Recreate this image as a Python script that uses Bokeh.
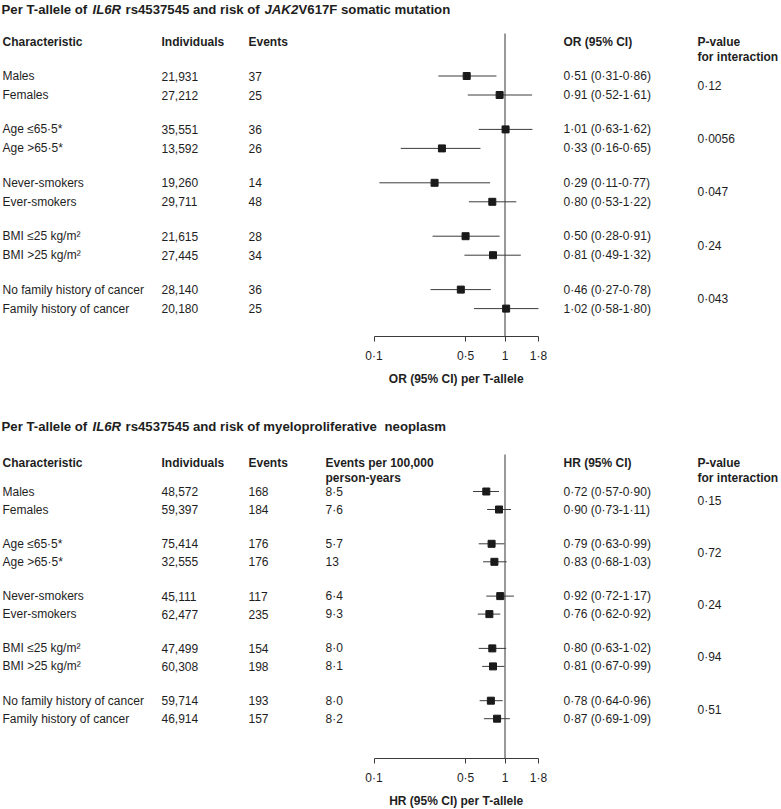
import math
from bokeh.plotting import figure
from bokeh.models import Range1d, LinearScale, FixedTicker, CustomJSTickFormatter, LogAxis
from bokeh.layouts import column
from bokeh.embed import file_html
from bokeh.resources import INLINE
from bokeh.core.properties import value

# ---------------- data ----------------
characteristics = ["Males", "Females", "Age \u226465\u00b75*", "Age >65\u00b75*",
                   "Never-smokers", "Ever-smokers", "BMI \u226425 kg/m\u00b2", "BMI >25 kg/m\u00b2",
                   "No family history of cancer", "Family history of cancer"]

jak_individuals = ["21,931", "27,212", "35,551", "13,592", "19,260", "29,711", "21,615", "27,445", "28,140", "20,180"]
jak_events = ["37", "25", "36", "26", "14", "48", "28", "34", "36", "25"]
jak_or = [0.51, 0.91, 1.01, 0.33, 0.29, 0.80, 0.50, 0.81, 0.46, 1.02]
jak_lo = [0.31, 0.52, 0.63, 0.16, 0.11, 0.53, 0.28, 0.49, 0.27, 0.58]
jak_hi = [0.86, 1.61, 1.62, 0.65, 0.77, 1.22, 0.91, 1.32, 0.78, 1.80]
jak_p = ["0\u00b712", "0\u00b70056", "0\u00b7047", "0\u00b724", "0\u00b7043"]

mpn_individuals = ["48,572", "59,397", "75,414", "32,555", "45,111", "62,477", "47,499", "60,308", "59,714", "46,914"]
mpn_events = ["168", "184", "176", "176", "117", "235", "154", "198", "193", "157"]
mpn_rate = ["8\u00b75", "7\u00b76", "5\u00b77", "13", "6\u00b74", "9\u00b73", "8\u00b70", "8\u00b71", "8\u00b70", "8\u00b72"]
mpn_hr = [0.72, 0.90, 0.79, 0.83, 0.92, 0.76, 0.80, 0.81, 0.78, 0.87]
mpn_lo = [0.57, 0.73, 0.63, 0.68, 0.72, 0.62, 0.63, 0.67, 0.64, 0.69]
mpn_hi = [0.90, 1.11, 0.99, 1.03, 1.17, 0.92, 1.02, 0.99, 0.96, 1.09]
mpn_p = ["0\u00b715", "0\u00b772", "0\u00b724", "0\u00b794", "0\u00b751"]

axis_ticks = [0.1, 0.5, 1, 1.8]

# ---------------- styling / layout ----------------
FONT = value("Liberation Sans")
TXT = "#1e1e1e"
X_ONE = 504.5      # page px of value 1
DEC = 131.0        # px per decade
LEFT, RIGHT = 0, 781


def fmt(v):
    return f"{v:.2f}".replace(".", "\u00b7")


def ci_text(e, lo, hi):
    return [f"{fmt(a)} ({fmt(b)}-{fmt(c)})" for a, b, c in zip(e, lo, hi)]


def make_panel(top, height, axis_y, row0, gstep, rstep, title_y, title_parts, headers, cols,
               est, lo, hi, pvals, axis_title):
    p = figure(width=RIGHT - LEFT, height=height, x_axis_type="log",
               x_range=Range1d(10 ** ((LEFT - X_ONE) / DEC), 10 ** ((RIGHT - X_ONE) / DEC)),
               y_range=Range1d(top + height, top),
               output_backend="svg", toolbar_location=None,
               min_border=0, x_axis_location=None, y_axis_location=None)
    p.extra_x_ranges = {"px": Range1d(LEFT, RIGHT)}
    p.extra_x_scales = {"px": LinearScale()}
    p.xgrid.visible = False
    p.ygrid.visible = False
    p.outline_line_color = None
    p.background_fill_color = "white"
    p.border_fill_color = "white"

    # row positions (page px)
    ys = [top + row0 + (i // 2) * gstep + (i % 2) * rstep for i in range(len(est))]
    pys = [(ys[2 * g] + ys[2 * g + 1]) / 2 for g in range(len(pvals))]

    # title
    for txt, style, x in title_parts:
        p.text(x=[x], y=[top + title_y], text=[txt], x_range_name="px", text_font=FONT,
               text_font_size="13.2px", text_font_style=style, text_color=TXT,
               text_baseline="middle", text_align="left")

    # headers
    for txt, x, y in headers:
        p.text(x=[x], y=[top + y], text=[txt], x_range_name="px", text_font=FONT,
               text_font_size="12px", text_font_style="bold", text_color=TXT,
               text_baseline="middle", text_align="left")

    # text columns
    for vals, x in cols:
        p.text(x=[x] * len(vals), y=ys, text=vals, x_range_name="px", text_font=FONT,
               text_font_size="12px", text_color=TXT, text_baseline="middle", text_align="left")
    p.text(x=[563] * len(est), y=ys, text=ci_text(est, lo, hi), x_range_name="px", text_font=FONT,
           text_font_size="12px", text_color=TXT, text_baseline="middle", text_align="left")
    p.text(x=[697] * len(pvals), y=pys, text=pvals, x_range_name="px", text_font=FONT,
           text_font_size="12px", text_color=TXT, text_baseline="middle", text_align="left")

    # reference line
    p.segment(x0=[1], x1=[1], y0=[top + headers[0][2] - 8], y1=[axis_y],
              line_color="#555555", line_width=1.2)
    # CIs and points
    p.segment(x0=lo, x1=hi, y0=ys, y1=ys, line_color="#3c3c3c", line_width=1)
    p.scatter(x=est, y=ys, marker="square", size=7, fill_color="#1a1a1a", line_color="#1a1a1a")

    ax = LogAxis(fixed_location=axis_y)
    ax.ticker = FixedTicker(ticks=axis_ticks, minor_ticks=[])
    ax.formatter = CustomJSTickFormatter(code="return tick.toString().replace('.', '\\u00b7');")
    ax.bounds = (axis_ticks[0], axis_ticks[-1])
    ax.major_tick_out = 5
    ax.major_tick_in = 0
    ax.minor_tick_out = 0
    ax.minor_tick_in = 0
    ax.axis_line_color = "#3a3a3a"
    ax.major_tick_line_color = "#3a3a3a"
    ax.major_label_text_font = "Liberation Sans"
    ax.major_label_text_font_size = "12px"
    ax.major_label_text_color = TXT
    ax.major_label_standoff = 7
    p.add_layout(ax, "below")

    # axis title centred under the axis span
    xc = 10 ** ((math.log10(axis_ticks[0]) + math.log10(axis_ticks[-1])) / 2)
    p.text(x=[xc], y=[axis_y + 42], text=[axis_title], text_font=FONT,
           text_font_size="12px", text_font_style="bold", text_color=TXT,
           text_align="center", text_baseline="middle")
    return p


top_title = [("Per T-allele of", "bold", 1), ("IL6R", "bold italic", 92),
             ("rs4537545 and risk of", "bold", 125), ("JAK2", "bold italic", 264),
             ("V617F somatic mutation", "bold", 298)]
top_headers = [("Characteristic", 2, 41), ("Individuals", 161, 41), ("Events", 248, 41),
               ("OR (95% CI)", 563, 41), ("P-value", 697, 41), ("for interaction", 697, 56)]
p1 = make_panel(0, 410, 336, 75.5, 53.4, 19, 9, top_title, top_headers,
                [(characteristics, 2), (jak_individuals, 161), (jak_events, 248)],
                jak_or, jak_lo, jak_hi, jak_p, "OR (95% CI) per T-allele")

bot_title = [("Per T-allele of", "bold", 1), ("IL6R", "bold italic", 92),
             ("rs4537545 and risk of myeloproliferative", "bold", 125), ("neoplasm", "bold", 384)]
bot_headers = [("Characteristic", 2, 52), ("Individuals", 161, 52), ("Events", 248, 52),
               ("Events per 100,000", 325, 52), ("person-years", 325, 67),
               ("HR (95% CI)", 563, 52), ("P-value", 697, 52), ("for interaction", 697, 67)]
p2 = make_panel(410, 399, 758, 81, 52.3, 18, 16, bot_title, bot_headers,
                [(characteristics, 2), (mpn_individuals, 161), (mpn_events, 248), (mpn_rate, 325)],
                mpn_hr, mpn_lo, mpn_hi, mpn_p, "HR (95% CI) per T-allele")

layout = column(p1, p2)
open("out.html", "w").write(file_html(layout, INLINE))
